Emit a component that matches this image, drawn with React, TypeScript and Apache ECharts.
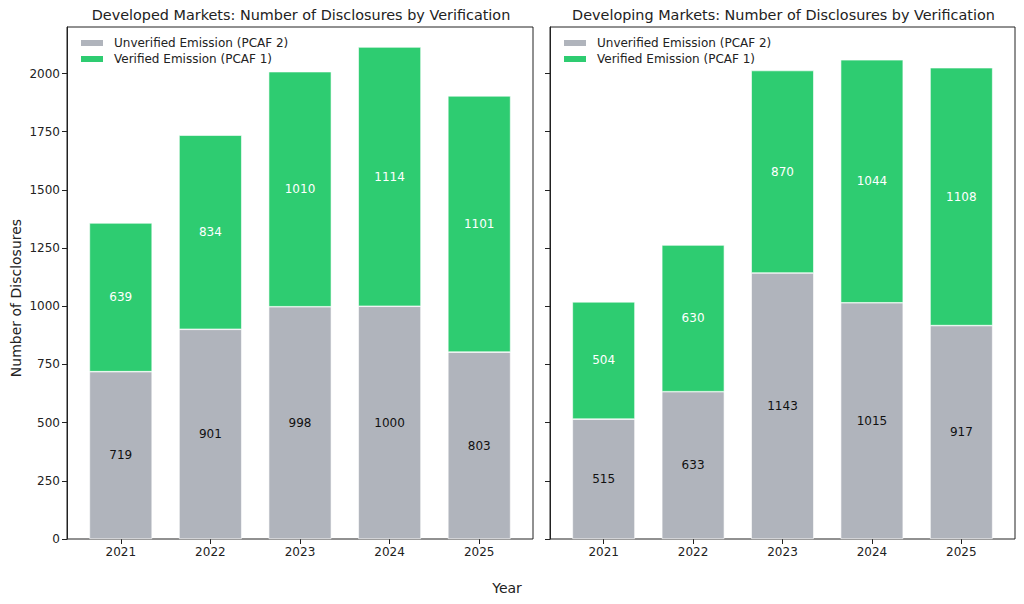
import React, { useEffect, useRef } from "react";
import * as echarts from "echarts";

const years = ["2021", "2022", "2023", "2024", "2025"];
const developedUnverified = [719, 901, 998, 1000, 803];
const developedVerified = [639, 834, 1010, 1114, 1101];
const developingUnverified = [515, 633, 1143, 1015, 917];
const developingVerified = [504, 630, 870, 1044, 1108];
const yTicks = [0, 250, 500, 750, 1000, 1250, 1500, 1750, 2000];
const titles = [
  "Developed Markets: Number of Disclosures by Verification",
  "Developing Markets: Number of Disclosures by Verification",
];
const seriesNames = ["Unverified Emission (PCAF 2)", "Verified Emission (PCAF 1)"];

const GRAY = "#b0b4bc";
const GREEN = "#2ecc71";
const FONT = "DejaVu Sans";
const INK = "#222";
const YMAX = 2200;

export default function App() {
  const ref = useRef<HTMLDivElement>(null);
  useEffect(() => {
    if (!ref.current) return;
    const chart = echarts.init(ref.current, null, { renderer: "svg" });
    const top = 27;
    const bottom = 604 - 539;
    const panels = [
      { l: 67, r: 533 },
      { l: 550, r: 1015 },
    ];
    const grids: any[] = [];
    const xAxes: any[] = [];
    const yAxes: any[] = [];
    panels.forEach((p, k) => {
      const w = (p.r - p.l) / 5.2;
      // frame grid
      grids.push({ left: p.l, right: 1024 - p.r, top, bottom, show: true, borderColor: INK, borderWidth: 1, backgroundColor: "transparent" });
      // data grid (inset by 0.1 category on each side)
      grids.push({ left: p.l + 0.1 * w, right: 1024 - (p.r - 0.1 * w), top, bottom });
      const fg = grids.length - 2;
      const dg = grids.length - 1;
      xAxes.push({ type: "value", gridIndex: fg, show: false, min: 0, max: 1 });
      yAxes.push({
        type: "value",
        gridIndex: fg,
        min: 0,
        max: YMAX,
        splitLine: { show: false },
        axisLine: { show: true, onZero: false, lineStyle: { color: INK, width: 1 } },
        axisTick: { show: true, customValues: yTicks, length: 5, lineStyle: { color: INK } },
        axisLabel: {
          show: k === 0,
          customValues: yTicks,
          formatter: (v: number) => String(v),
          color: INK,
          fontFamily: FONT,
          fontSize: 12,
          margin: 7,
        },
      });
      xAxes.push({
        type: "category",
        gridIndex: dg,
        data: years,
        axisLine: { show: false },
        axisTick: { show: true, alignWithLabel: true, length: 5, lineStyle: { color: INK } },
        axisLabel: { color: INK, fontFamily: FONT, fontSize: 12, margin: 7 },
        splitLine: { show: false },
      });
      yAxes.push({ type: "value", gridIndex: dg, show: false, min: 0, max: YMAX, splitLine: { show: false } });
    });

    const mk = (name: string, axis: number, vals: number[], color: string, labelColor: string) => ({
      type: "bar",
      name,
      xAxisIndex: axis,
      yAxisIndex: axis,
      stack: "s" + axis,
      barWidth: "70%",
      data: vals,
      itemStyle: { color, borderColor: "#ffffff", borderWidth: 0.6 },
      label: {
        show: true,
        position: "inside",
        color: labelColor,
        fontFamily: FONT,
        fontSize: 12,
      },
    });
    const legend = (left: number) => ({
      orient: "vertical",
      left,
      top: 37,
      padding: 0,
      itemWidth: 24,
      itemHeight: 8,
      itemGap: 4,
      icon: "rect",
      selectedMode: false,
      data: seriesNames,
      textStyle: { fontFamily: FONT, fontSize: 12, color: INK, padding: [0, 0, 0, 5] },
    });
    const titleStyle = { fontFamily: FONT, fontSize: 14.4, fontWeight: "normal", color: INK };
    chart.setOption({
      animation: false,
      backgroundColor: "#ffffff",
      title: [
        { text: titles[0], left: 296, top: 3, textAlign: "center", textStyle: titleStyle },
        { text: titles[1], left: 778.5, top: 3, textAlign: "center", textStyle: titleStyle },
      ],
      legend: [legend(79), legend(562)],
      grid: grids,
      xAxis: xAxes,
      yAxis: yAxes,
      series: [
        mk(seriesNames[0], 1, developedUnverified, GRAY, "#111"),
        mk(seriesNames[1], 1, developedVerified, GREEN, "#fff"),
        mk(seriesNames[0], 3, developingUnverified, GRAY, "#111"),
        mk(seriesNames[1], 3, developingVerified, GREEN, "#fff"),
      ],
      graphic: [
        {
          type: "text",
          x: 16,
          y: 298,
          rotation: Math.PI / 2,
          style: { text: "Number of Disclosures", fontFamily: FONT, fontSize: 14, fill: INK, align: "center", verticalAlign: "middle" },
        },
        {
          type: "text",
          x: 507,
          y: 588,
          style: { text: "Year", fontFamily: FONT, fontSize: 14, fill: INK, align: "center", verticalAlign: "middle" },
        },
      ],
    });
    return () => chart.dispose();
  }, []);
  return <div ref={ref} style={{ position: "fixed", left: 0, top: 0, width: 1024, height: 604 }} />;
}
